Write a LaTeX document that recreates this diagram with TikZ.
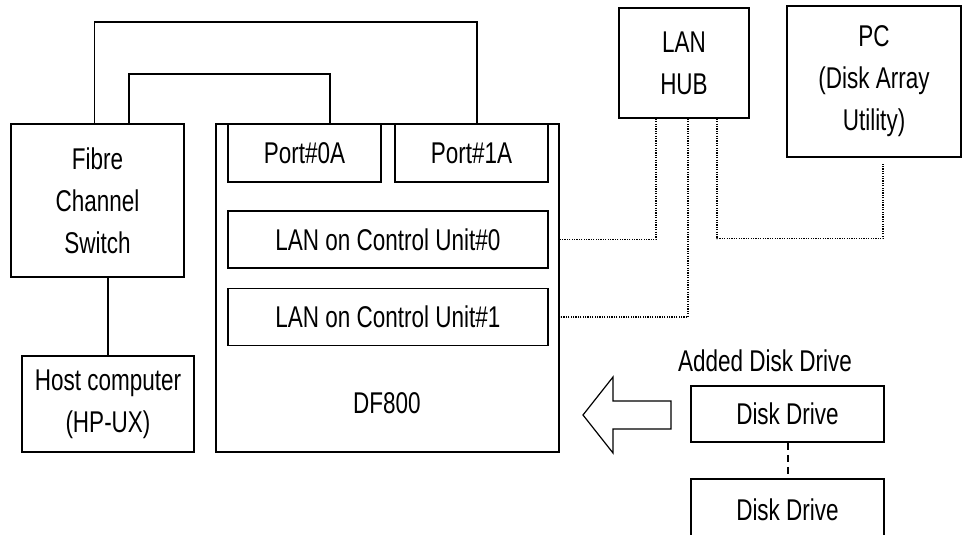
\documentclass[tikz,border=0pt]{standalone}
\usepackage{fontspec}
\setmainfont{Liberation Sans}[FakeStretch=0.75]
\begin{document}
\begin{tikzpicture}[x=1pt, y=-1pt, line width=1.6pt,
  font=\fontsize{30}{42}\selectfont,
  kutu/.style={draw, align=center, inner sep=0pt},
  hat/.style={line width=1.2pt, dash pattern=on 1.2pt off 1.2pt}]
  \useasboundingbox (0,0) rectangle (964,535);

  % ---- 1) Sol taraf: anahtar ve sunucu ----
  \node (fcs) [kutu, minimum width=173, minimum height=153] at (97.5,200.5)
    {Fibre\\Channel\\Switch};
  \node (host) [kutu, minimum width=172, minimum height=96] at (108,404)
    {Host computer\\(HP-UX)};

  % ---- 2) DF800 ve icindeki birimler ----
  \node (df) [kutu, minimum width=343, minimum height=328] at (387.5,288) {};
  \node (p0) [kutu, minimum width=153, minimum height=58] at (304.5,153) {Port\#0A};
  \node (p1) [kutu, minimum width=153, minimum height=58] at (471.5,153) {Port\#1A};
  \node (lan0) [kutu, minimum width=320, minimum height=57] at (388,239.5)
    {LAN on Control Unit\#0};
  \node (lan1) [kutu, minimum width=320, minimum height=57] at (388,317)
    {LAN on Control Unit\#1};
  \node (dfad) at (387,403) {DF800};

  % ---- 3) Sag taraf: hub, PC ve diskler ----
  \node (hub) [kutu, minimum width=130, minimum height=110] at (684,63) {LAN\\HUB};
  \node (pc) [kutu, minimum width=174, minimum height=151] at (874,81.5)
    {PC\\(Disk Array\\Utility)};
  \node (ekdisk) at (765,361) {Added Disk Drive};
  \node (dd1) [kutu, minimum width=193, minimum height=56] at (787.5,414) {Disk Drive};
  \node (dd2) [kutu, minimum width=193, minimum height=62] at (787.5,510) {Disk Drive};

  % ---- 4) Baglantilar ----
  \draw ([xshift=-3pt]fcs.north) -- ++(0,-101) -| ([xshift=5.5pt]p1.north);
  \draw ([xshift=31.5pt]fcs.north) -- ++(0,-49) -| ([xshift=25.5pt]p0.north);
  \draw (host.north) -- (host.north |- fcs.south);
  \draw[hat] ([xshift=-28pt]hub.south) |- (lan0 -| df.east);
  \draw[hat] ([xshift=4pt]hub.south) |- (lan1 -| df.east);
  \draw[hat] ([xshift=33pt]hub.south) -- ++(0,120) -| ([xshift=9pt,yshift=-5pt]pc.south);
  \draw[line width=2pt, dash pattern=on 7pt off 5pt] (dd1.south) -- (dd2.north);

  % ---- 5) Bos ok: diskten DF800'e ----
  \draw[line width=1.2pt] (583,415) -- (613,377) -- (613,401) -- (671,401)
    -- (671,429) -- (613,429) -- (613,453) -- cycle;
\end{tikzpicture}
\end{document}
